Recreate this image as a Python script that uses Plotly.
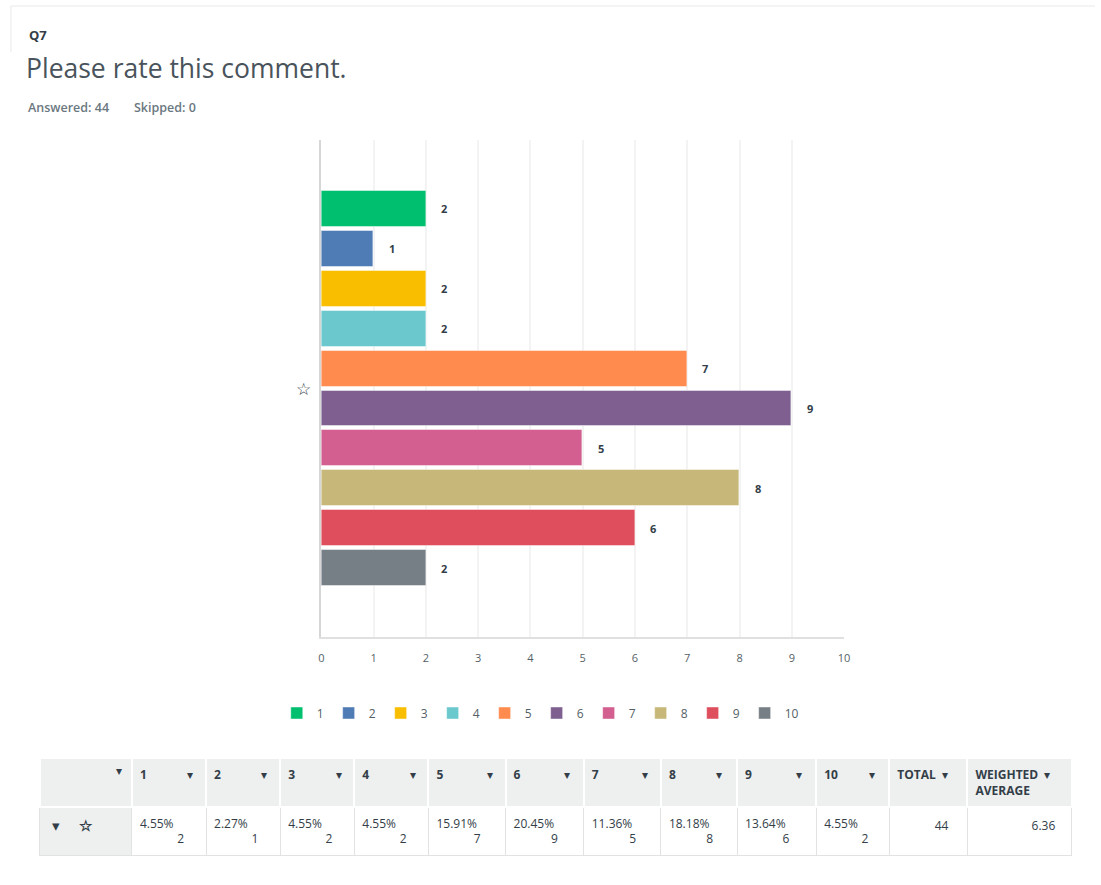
import plotly.graph_objects as go

# Survey question and response counts per rating (1..10)
question_id = "Q7"
question_text = "Please rate this comment."
ratings = ["1", "2", "3", "4", "5", "6", "7", "8", "9", "10"]
counts = [2, 1, 2, 2, 7, 9, 5, 8, 6, 2]
skipped = 0
colors = ["#00bf6f", "#507cb6", "#f9be00", "#6bc8cd", "#ff8b4f",
          "#7f5f90", "#d25f90", "#c7b879", "#de4e5d", "#777f86"]

W, H = 1101, 885
FONT = "Open Sans"
DARK = "#333e48"
GREY = "#6b787f"

answered = sum(counts)
weighted_avg = sum(int(r) * c for r, c in zip(ratings, counts)) / answered
percents = [c / answered * 100 for c in counts]


def px_x(x):
    return x / W


def px_y(y):
    return 1 - y / H


fig = go.Figure()

# one horizontal bar per rating, stacked top-to-bottom
for i, (r, c, col) in enumerate(zip(ratings, counts, colors)):
    fig.add_trace(go.Bar(
        x=[c], y=[i], orientation="h", name=r, width=0.9,
        marker=dict(color=col, line=dict(color="rgba(255,255,255,0.45)", width=1)),
        hoverinfo="x+name",
    ))
    fig.add_annotation(x=c, y=i, xref="x", yref="y", text=f"<b>{c}</b>",
                       showarrow=False, xanchor="left", xshift=13,
                       font=dict(family=FONT, size=11, color=DARK))

# row label of the single answer row
fig.add_annotation(x=px_x(313), y=4.5, xref="paper", yref="y", text="<b>☆</b>",
                   showarrow=False, xanchor="right",
                   font=dict(family="DejaVu Sans", size=17, color=DARK))

# header texts
fig.add_annotation(x=px_x(24), y=px_y(35), xref="paper", yref="paper",
                   text=f"<b>{question_id}</b>", showarrow=False, xanchor="left",
                   yanchor="middle", font=dict(family=FONT, size=13, color=DARK))
fig.add_annotation(x=px_x(21), y=px_y(68), xref="paper", yref="paper",
                   text=question_text, showarrow=False, xanchor="left",
                   yanchor="middle", font=dict(family=FONT, size=26.5, color="#49535b"))
fig.add_annotation(x=px_x(23), y=px_y(107), xref="paper", yref="paper",
                   text=f"Answered: {answered}", showarrow=False, xanchor="left",
                   yanchor="middle", font=dict(family=FONT, size=12.5, color=GREY, weight=600))
fig.add_annotation(x=px_x(130), y=px_y(107), xref="paper", yref="paper",
                   text=f"Skipped: {skipped}", showarrow=False, xanchor="left",
                   yanchor="middle", font=dict(family=FONT, size=12.5, color=GREY, weight=600))

# card outline
fig.add_shape(type="line", xref="paper", yref="paper", x0=px_x(8), x1=1,
              y0=px_y(6), y1=px_y(6), line=dict(color="#e9e9e9", width=1))
fig.add_shape(type="line", xref="paper", yref="paper", x0=px_x(8), x1=px_x(8),
              y0=px_y(6), y1=px_y(52), line=dict(color="#e9e9e9", width=1))

# summary table
NB = "\u00a0"
TRI = "▾"
col_labels = [""] + ratings + ["TOTAL", "WEIGHTED"]
col_widths = [92, 74, 74, 74, 74, 77, 78, 77, 76, 79, 73, 78, 104]


def header_cell(label, width):
    if label == "":
        return NB * 22 + TRI
    if label == "WEIGHTED":
        return "<b>WEIGHTED</b>" + NB * 2 + TRI + "<br><b>AVERAGE</b>"
    if label == "TOTAL":
        return "<b>TOTAL</b>" + NB * 2 + TRI
    label_w = sum(8.5 if ch.isalpha() else 7 for ch in label)
    gap = max(1, round((width - 26 - label_w) / 3.2))
    return f"<b>{label}</b>" + NB * gap + TRI


def body_cell(pct, cnt):
    pad = max(0, round((44 - 7 * len(str(cnt))) / 3.2))
    return f"{pct:.2f}%<br>" + NB * pad + str(cnt)


header_vals = [[header_cell(l, w)] for l, w in zip(col_labels, col_widths)]
body_vals = [[NB + TRI + NB * 5 + "<b>☆</b>"]]
body_vals += [[body_cell(p, c)] for p, c in zip(percents, counts)]
body_vals += [["<br>" + NB * 12 + str(answered)], ["<br>" + NB * 18 + f"{weighted_avg:.2f}"]]

fig.add_trace(go.Table(
    domain=dict(x=[px_x(37), px_x(1078)], y=[0.02, px_y(758)]),
    columnwidth=col_widths,
    header=dict(values=header_vals, align="left", height=46,
                fill_color="#eeefef", line=dict(color="white", width=2),
                font=dict(family=FONT, size=12, color=DARK)),
    cells=dict(values=body_vals, align="left", height=46,
               fill_color=[["#eeefef"]] + [["white"]] * 12,
               line=dict(color="#e2e2e2", width=1),
               font=dict(family=FONT, size=[15] + [12] * 12, color=DARK)),
))

fig.update_layout(
    width=W, height=H, margin=dict(l=0, r=0, t=0, b=0),
    paper_bgcolor="white", plot_bgcolor="white",
    barmode="overlay", bargap=0,
    showlegend=True,
    legend=dict(orientation="h", x=0.492, xanchor="center", y=px_y(713),
                yanchor="middle", font=dict(family=FONT, size=12, color="#555f66")),
    xaxis=dict(domain=[px_x(321), px_x(848)], range=[0, 10], dtick=1,
               showgrid=True, gridcolor="#f3f3f3", gridwidth=2,
               zeroline=False, showline=True, linecolor="#e0e0e0", linewidth=2,
               ticks="outside", ticklen=10, tickcolor="rgba(0,0,0,0)",
               tickfont=dict(family=FONT, size=11, color="#555f66"),
               fixedrange=True),
    yaxis=dict(domain=[px_y(637), px_y(140)], range=[10.725, -1.725],
               showticklabels=False, showgrid=False, zeroline=False,
               showline=True, linecolor="#d6d6d6", linewidth=2, fixedrange=True),
)

fig.write_html("out.html")
